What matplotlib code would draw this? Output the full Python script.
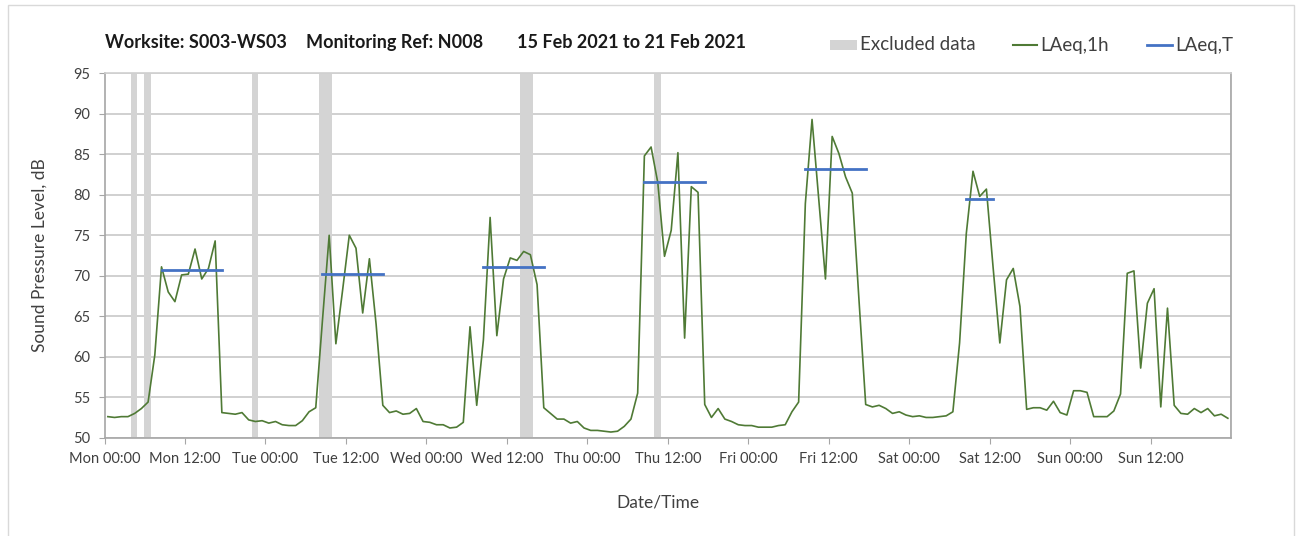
import matplotlib
matplotlib.use("Agg")
import matplotlib.pyplot as plt
from matplotlib.patches import Rectangle
from matplotlib.lines import Line2D
import numpy as np

# ---------------- data ----------------
# hourly LAeq,1h values, Mon 00:00 .. Sun 23:00 (168 hours)
laeq_1h = [
    52.6, 52.5, 52.6, 52.6, 53.0, 53.6, 54.4, 60.2,
    71.1, 68.0, 66.8, 70.1, 70.2, 73.3, 69.6, 70.9, 74.3, 53.1,
    53.0, 52.9, 53.1, 52.2, 52.0, 52.1, 51.8, 52.0,
    51.6, 51.5, 51.5, 52.1, 53.2, 53.7,
    64.5, 75.0, 61.6, 68.2, 75.0, 73.4, 65.4, 72.1, 64.0, 54.0,
    53.1, 53.3, 52.9, 53.0, 53.6, 52.0, 51.9, 51.6,
    51.6, 51.2, 51.3, 51.9,
    63.7, 54.0, 62.1, 77.2, 62.6, 69.6, 72.2, 71.9, 73.0, 72.6, 68.9, 53.7,
    53.0, 52.3, 52.3, 51.8, 52.0, 51.2, 50.9, 50.9,
    50.8, 50.7, 50.8, 51.4, 52.3, 55.5,
    84.8, 85.9, 81.5, 72.4, 75.6, 85.2, 62.3, 81.0, 80.3, 54.1,
    52.5, 53.6, 52.3, 52.0, 51.6, 51.5, 51.5, 51.3,
    51.3, 51.3, 51.5, 51.6, 53.2, 54.4,
    78.9, 89.3, 79.5, 69.6, 87.2, 85.1, 82.2, 80.2, 67.0, 54.1,
    53.8, 54.0, 53.6, 53.0, 53.2, 52.8, 52.6, 52.7,
    52.5, 52.5, 52.6, 52.7, 53.2, 61.7,
    75.2, 82.9, 79.8, 80.7, 71.0, 61.7, 69.5, 70.9, 66.2, 53.5,
    53.7, 53.7, 53.4, 54.5, 53.1, 52.8, 55.8, 55.8,
    55.6, 52.6, 52.6, 52.6, 53.3, 55.4, 70.3, 70.6,
    58.6, 66.6, 68.4, 53.8, 66.0, 54.0, 53.0, 52.9,
    53.6, 53.1, 53.6, 52.7, 52.9, 52.4,
]

# LAeq,T daytime periods: first hour index, last hour index, level
laeqT_start = [8, 32, 56, 80, 104, 128]
laeqT_end = [17, 41, 65, 89, 113, 132]
laeqT_value = [70.65, 70.2, 71.1, 81.6, 83.2, 79.5]

# excluded data periods (hours from Mon 00:00)
excl_start = [4.0, 5.9, 21.95, 32.0, 62.0, 82.0]
excl_end = [4.85, 6.9, 22.85, 33.9, 63.95, 83.0]

days = ["Mon", "Tue", "Wed", "Thu", "Fri", "Sat", "Sun"]
tick_labels = [f"{d} {t}" for d in days for t in ("00:00", "12:00")]

title_parts = ["Worksite: S003-WS03", "Monitoring Ref: N008", "15 Feb 2021 to 21 Feb 2021"]
legend_labels = ["Excluded data", "LAeq,1h", "LAeq,T"]

# ---------------- style ----------------
plt.rcParams['font.family'] = ['Lato', 'DejaVu Sans']
W, H = 1301, 536
fig = plt.figure(figsize=(W / 100, H / 100), dpi=100)
fig.patch.set_facecolor("white")

GREEN = "#4f7a35"
BLUE = "#4472c4"
GREY = "#d4d4d4"

# outer chart frame
fig.add_artist(Rectangle((8 / W, -0.01), (1294 - 8) / W, 1 - 5 / H + 0.01,
                         transform=fig.transFigure, fill=False,
                         edgecolor="#d9d9d9", linewidth=1.0))

ax = fig.add_axes([104.5 / W, 1 - 437.7 / H, (1231.2 - 104.5) / W, (437.7 - 73.3) / H])

hours = np.arange(len(laeq_1h)) + 0.5

for s, e in zip(excl_start, excl_end):
    ax.axvspan(s, e, color=GREY, lw=0, zorder=1)

ax.plot(hours, laeq_1h, color=GREEN, lw=1.2, zorder=3)

for s, e, v in zip(laeqT_start, laeqT_end, laeqT_value):
    ax.plot([s + 0.5, e + 0.5], [v, v], color=BLUE, lw=2.0,
            solid_capstyle="projecting", zorder=4)

ax.set_xlim(0, 168)
ax.set_ylim(50, 95)
ax.set_yticks(np.arange(50, 96, 5))
ax.set_xticks(np.arange(0, 168, 12))
ax.set_xticklabels(tick_labels)
ax.set_xticks(np.arange(0, 169, 24), minor=True)

ax.grid(axis="y", which="major", color="#d0d0d0", lw=1.4, zorder=0)
ax.grid(axis="x", which="minor", color="#e2e2e2", lw=1.2, zorder=0)
ax.set_axisbelow(True)

for sp in ax.spines.values():
    sp.set_color("#a6a6a6")
    sp.set_linewidth(1.2)
ax.spines["top"].set_color("#d0d0d0")

ax.tick_params(axis="both", which="major", direction="out", length=4,
               color="#a6a6a6", labelsize=10.5, labelcolor="#404040")
ax.tick_params(axis="x", which="minor", length=0)
ax.tick_params(axis="x", pad=6)
ax.tick_params(axis="y", pad=6)

fig.text(40 / W, 1 - 255 / H, "Sound Pressure Level, dB", rotation=90,
         ha="center", va="center", fontsize=12.5, color="#404040")
fig.text(658 / W, 1 - 502 / H, "Date/Time", ha="center", va="center",
         fontsize=12.5, color="#404040")

# title (three parts)
for xp, txt in zip([105, 306, 517], title_parts):
    fig.text(xp / W, 1 - 42 / H, txt, ha="left", va="center",
             fontsize=13, fontweight="bold", color="#1a1a1a")

# manual legend
ly = 1 - 45 / H
fig.add_artist(Rectangle((830 / W, 1 - 50 / H), 27 / W, 10 / H,
                         transform=fig.transFigure, facecolor=GREY,
                         edgecolor="none"))
fig.add_artist(Line2D([1013 / W, 1037 / W], [ly, ly], transform=fig.transFigure,
                      color=GREEN, lw=1.5))
fig.add_artist(Line2D([1147 / W, 1172 / W], [ly, ly], transform=fig.transFigure,
                      color=BLUE, lw=2.0))
for xp, txt in zip([860, 1040, 1175], legend_labels):
    fig.text(xp / W, ly, txt, ha="left", va="center", fontsize=13.5,
             color="#404040")

fig.savefig("out.png", dpi=100)
